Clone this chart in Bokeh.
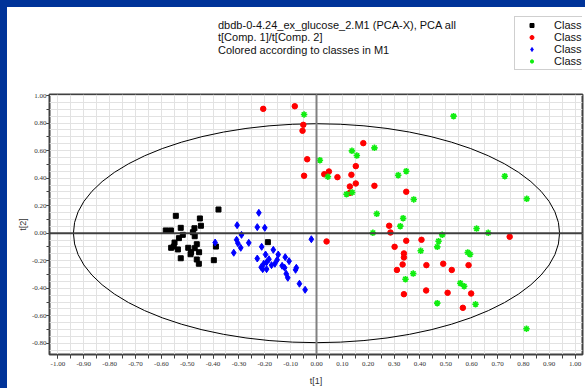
from bokeh.plotting import figure
from bokeh.layouts import column, row
from bokeh.models import (Range1d, FixedTicker, PrintfTickFormatter, Span, Label,
                          Legend, LegendItem, Spacer)
from bokeh.embed import file_html
from bokeh.resources import INLINE

# ---------------- data ----------------
title_lines = ["dbdb-0-4.24_ex_glucose_2.M1 (PCA-X), PCA all",
               "t[Comp. 1]/t[Comp. 2]",
               "Colored according to classes in M1"]
class_names = ["Class 1", "Class 2", "Class 3", "Class 4"]
x_axis_title = "t[1]"
y_axis_title = "t[2]"

c1_x = [-0.583, -0.563, -0.544, -0.525, -0.517, -0.532, -0.549, -0.552, -0.562, -0.536,
        -0.525, -0.496, -0.485, -0.487, -0.472, -0.478, -0.471, -0.447, -0.451, -0.463,
        -0.471, -0.454, -0.463, -0.455, -0.389, -0.397, -0.379, -0.188]
c1_y = [0.020, 0.020, 0.126, 0.039, -0.012, -0.036, -0.068, -0.097, -0.106, -0.118,
        -0.182, -0.106, -0.138, -0.153, 0.036, 0.007, -0.022, 0.054, 0.107, -0.080,
        -0.109, -0.138, -0.191, -0.222, -0.097, -0.196, 0.172, -0.065]

c2_x = [-0.206, -0.084, -0.051, -0.054, -0.036, -0.048, 0.030, 0.048, 0.081, 0.039,
        0.181, 0.152, 0.135, 0.152, 0.129, 0.129, 0.224, 0.347, 0.281, 0.286,
        0.347, 0.406, 0.302, 0.338, 0.338, 0.333, 0.425, 0.490, 0.588, 0.311,
        0.523, 0.424, 0.507, 0.338, 0.598, 0.566, 0.747]
c2_y = [0.903, 0.922, 0.787, 0.744, 0.537, 0.417, 0.428, 0.448, 0.407, -0.060,
        0.654, 0.487, 0.424, 0.361, 0.339, 0.293, 0.344, 0.301, 0.054, 0.005,
        -0.055, -0.048, -0.099, -0.147, -0.176, -0.227, -0.232, -0.222, -0.232, -0.267,
        -0.267, -0.416, -0.433, -0.443, -0.438, -0.542, -0.026]

c3_x = [-0.392, -0.307, -0.290, -0.309, -0.304, -0.293, -0.320, -0.262, -0.223, -0.229,
        -0.200, -0.212, -0.229, -0.197, -0.167, -0.148, -0.184, -0.193, -0.204, -0.214,
        -0.208, -0.193, -0.174, -0.161, -0.152, -0.121, -0.106, -0.133, -0.123, -0.081,
        -0.078, -0.117, -0.111, -0.066, -0.044, -0.020]
c3_y = [-0.068, 0.058, -0.012, -0.048, -0.073, -0.106, -0.142, -0.070, 0.148, 0.044,
        0.039, -0.099, -0.184, -0.155, -0.121, -0.155, -0.189, -0.211, -0.222, -0.247,
        -0.261, -0.261, -0.232, -0.222, -0.193, -0.174, -0.203, -0.237, -0.251, -0.266,
        -0.251, -0.295, -0.324, -0.367, -0.411, -0.044]

c4_x = [-0.048, 0.013, 0.044, 0.137, 0.156, 0.224, 0.530, 0.316, 0.347, 0.116,
        0.138, 0.376, 0.233, 0.335, 0.324, 0.218, 0.486, 0.472, 0.467, 0.403,
        0.585, 0.594, 0.619, 0.664, 0.728, 0.813, 0.374, 0.344, 0.556, 0.571,
        0.467, 0.615, 0.812]
c4_y = [0.862, 0.530, 0.410, 0.598, 0.564, 0.620, 0.850, 0.421, 0.450, 0.283,
        0.296, 0.245, 0.141, 0.109, 0.051, 0.003, -0.012, -0.058, -0.099, -0.128,
        -0.140, -0.153, 0.034, 0.003, 0.414, 0.250, -0.293, -0.334, -0.363, -0.385,
        -0.508, -0.516, -0.694]

# Hotelling T2 ellipse (centre and semi-axes)
ellipse_cx = [0.0]
ellipse_cy = [0.0]
ellipse_a = [0.94]
ellipse_b = [0.795]

x_major_ticks = [i / 10 for i in range(-10, 11)]
x_minor_ticks = [i / 20 for i in range(-20, 21)]
y_major_ticks = [i / 10 for i in range(-8, 11, 2)]
y_minor_ticks = [i / 10 for i in range(-8, 11)]
grid_x_ticks = [i / 20 for i in range(-20, 21)]
grid_y_ticks = [i / 20 for i in range(-18, 21)]

FONT = "Liberation Sans"
TICK_FONT = "Liberation Sans Narrow"
BLUE = "#003399"
MARKERS = [dict(marker="square", size=5, color="black"),
           dict(marker="circle", size=5.5, color="#ff0000"),
           dict(marker="diamond", size=7, color="#0000ff"),
           dict(marker="asterisk", size=6.5, line_width=1.6, color="#11ee11")]
SERIES_X = [c1_x, c2_x, c3_x, c4_x]
SERIES_Y = [c1_y, c2_y, c3_y, c4_y]

W, HH, HM = 578, 80, 301
LEFT, RIGHT = 42, 3   # frame borders shared by both stacked figures (column aligns frames)

# ---------------- header (titles + legend) ----------------
h = figure(width=W, height=HH, output_backend="svg", toolbar_location=None,
           x_axis_location=None, y_axis_location=None,
           x_range=Range1d(10, 11), y_range=Range1d(10, 11),
           min_border=0, min_border_left=LEFT, min_border_right=RIGHT,
           min_border_top=0, min_border_bottom=0)
h.grid.visible = False
h.outline_line_color = None
h.background_fill_color = "white"
h.border_fill_color = "white"

# same series, drawn outside the header's view, only to feed its legend
hidden = [h.scatter(xs, ys, **m) for xs, ys, m in zip(SERIES_X, SERIES_Y, MARKERS)]
legend = Legend(items=[LegendItem(label=n, renderers=[r]) for n, r in zip(class_names, hidden)],
                location=(465, 17), padding=2, spacing=0, glyph_width=29,
                glyph_height=10, label_height=12, label_standoff=8,
                label_text_font=FONT, label_text_font_size="11px",
                label_text_color="#111111",
                border_line_color="#a0a0a0", border_line_width=1,
                background_fill_color="white", background_fill_alpha=1.0, margin=0)
h.add_layout(legend)

for i, line in enumerate(title_lines):
    h.add_layout(Label(x=168.5, y=62.7 - 12.5 * i, x_units="screen", y_units="screen",
                       text=line, text_font=FONT, text_font_size="11px",
                       text_color="#111111", text_baseline="alphabetic",
                       text_align="left"))

# ---------------- main score plot ----------------
p = figure(width=W, height=HM, output_backend="svg", toolbar_location=None,
           x_range=Range1d(-1.0325, 1.0286), y_range=Range1d(-0.881, 1.0073),
           min_border_left=LEFT, min_border_right=RIGHT, min_border_top=7,
           min_border_bottom=34)
p.background_fill_color = "white"
p.border_fill_color = "white"
p.outline_line_color = "#404040"
p.outline_line_width = 2

p.xgrid.ticker = FixedTicker(ticks=grid_x_ticks)
p.ygrid.ticker = FixedTicker(ticks=grid_y_ticks)
for g in (p.xgrid, p.ygrid):
    g.grid_line_color = "#e2e2e2"
    g.grid_line_width = 1

p.xaxis.ticker = FixedTicker(ticks=x_major_ticks, minor_ticks=x_minor_ticks)
p.yaxis.ticker = FixedTicker(ticks=y_major_ticks, minor_ticks=y_minor_ticks)
for ax in (p.xaxis, p.yaxis):
    ax.formatter = PrintfTickFormatter(format="%.2f")
    ax.axis_line_color = None
    ax.major_tick_line_color = "#404040"
    ax.minor_tick_line_color = "#404040"
    ax.major_tick_in = 0
    ax.minor_tick_in = 0
    ax.major_label_text_font = TICK_FONT
    ax.major_label_text_font_size = "7px"
    ax.major_label_text_color = "#333333"
    ax.axis_label_text_font = FONT
    ax.axis_label_text_font_size = "9px"
    ax.axis_label_text_font_style = "normal"
    ax.axis_label_text_color = "#333333"
p.xaxis.major_tick_out = 4
p.xaxis.minor_tick_out = 4
p.xaxis.major_label_standoff = 3
p.xaxis.axis_label = x_axis_title
p.xaxis.axis_label_standoff = 7
p.yaxis.major_tick_out = 3
p.yaxis.minor_tick_out = 3
p.yaxis.major_label_standoff = 0
p.yaxis.axis_label = y_axis_title
p.yaxis.axis_label_standoff = 1

p.add_layout(Span(location=0, dimension="height", line_color="#808080", line_width=2))
p.add_layout(Span(location=0, dimension="width", line_color="#404040", line_width=2))

p.ellipse(x=ellipse_cx, y=ellipse_cy, width=[2 * a for a in ellipse_a],
          height=[2 * b for b in ellipse_b], fill_color=None,
          line_color="black", line_width=1)

for xs, ys, m in zip(SERIES_X, SERIES_Y, MARKERS):
    p.scatter(xs, ys, **m)

# ---------------- page frame (blue border at left/top) ----------------
top_bar = Spacer(width=585, height=7, styles={"background-color": BLUE})
left_bar = Spacer(width=7, height=HH + HM, styles={"background-color": BLUE})
layout = column(top_bar, row(left_bar, column(h, p, spacing=0), spacing=0), spacing=0)

open("out.html", "w").write(file_html(layout, INLINE))
